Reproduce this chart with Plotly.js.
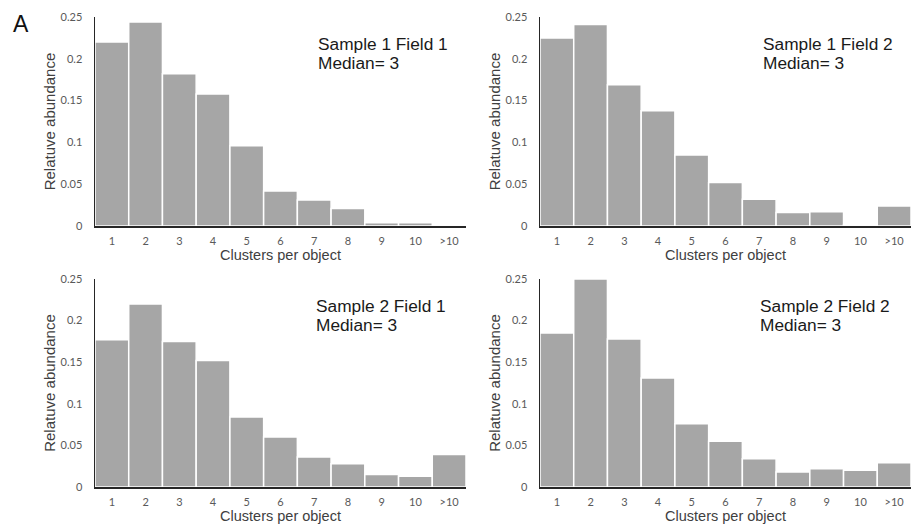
<!DOCTYPE html>
<html>
<head>
<meta charset="utf-8">
<script src="https://cdn.plot.ly/plotly-3.0.1.min.js"></script>
<style>html,body{margin:0;padding:0;background:#fff;}#chart{width:915px;height:531px;}</style>
</head>
<body>
<div id="chart"></div>
<script>
var categories = ['1','2','3','4','5','6','7','8','9','10','>10'];
var s1f1 = [0.220, 0.244, 0.182, 0.158, 0.096, 0.042, 0.031, 0.021, 0.004, 0.004, 0];
var s1f2 = [0.225, 0.241, 0.169, 0.138, 0.085, 0.052, 0.032, 0.016, 0.017, 0.0015, 0.024];
var s2f1 = [0.177, 0.220, 0.175, 0.152, 0.084, 0.060, 0.036, 0.028, 0.015, 0.013, 0.039];
var s2f2 = [0.185, 0.250, 0.178, 0.131, 0.076, 0.055, 0.034, 0.018, 0.022, 0.020, 0.029];
var panelTitles = ['Sample 1 Field 1', 'Sample 1 Field 2', 'Sample 2 Field 1', 'Sample 2 Field 2'];
var medians = [3, 3, 3, 3];
var yTickVals = [0, 0.05, 0.1, 0.15, 0.2, 0.25];
var yTickText = ['0', '0.05', '0.1', '0.15', '0.2', '0.25'];

var series = [s1f1, s1f2, s2f1, s2f2];
var W = 915, H = 531;
var xDomains = [[95/W, 466/W], [540/W, 911/W], [95/W, 466/W], [540/W, 911/W]];
var yDomains = [[1-226/H, 1-17/H], [1-226/H, 1-17/H], [1-487/H, 1-279/H], [1-487/H, 1-279/H]];
var annPos = [[316, 44], [761, 44], [314, 306], [758, 306]];
var lineGap = 18.5;

var traces = [];
var layout = {
  width: W, height: H,
  margin: {l: 0, r: 0, t: 0, b: 0},
  paper_bgcolor: '#fff', plot_bgcolor: '#fff',
  showlegend: false,
  bargap: 0,
  font: {family: 'Liberation Sans, Arial, sans-serif', color: '#333'},
  annotations: []
};
var tickFont = {family: 'Lato, Open Sans, sans-serif', size: 11, color: '#595959'};
var xTitleFont = {family: 'Liberation Sans, Arial, sans-serif', size: 14.5, color: '#404040'};
var yTitleFont = {family: 'Liberation Sans, Arial, sans-serif', size: 15, color: '#404040'};
var annFont = {family: 'Liberation Sans, Arial, sans-serif', size: 17.3, color: '#1a1a1a'};

for (var i = 0; i < 4; i++) {
  var sfx = i === 0 ? '' : String(i + 1);
  traces.push({
    type: 'bar', x: categories, y: series[i],
    xaxis: 'x' + sfx, yaxis: 'y' + sfx,
    marker: {color: '#a6a6a6', line: {color: '#ffffff', width: 1.5}},
    hoverinfo: 'x+y'
  });
  layout['xaxis' + sfx] = {
    domain: xDomains[i], anchor: 'y' + sfx,
    type: 'category',
    showline: true, linecolor: '#262626', linewidth: 1.5,
    showgrid: false, zeroline: false,
    ticks: 'outside', ticklen: 4, tickcolor: 'rgba(0,0,0,0)',
    tickfont: tickFont,
    title: {text: 'Clusters per object', font: xTitleFont, standoff: 0},
    automargin: false, fixedrange: true
  };
  layout['yaxis' + sfx] = {
    domain: yDomains[i], anchor: 'x' + sfx,
    range: [0, 0.25],
    showline: true, linecolor: '#262626', linewidth: 1.5,
    showgrid: false, zeroline: false,
    tickvals: yTickVals, ticktext: yTickText,
    ticks: 'outside', ticklen: 9, tickcolor: 'rgba(0,0,0,0)',
    tickfont: tickFont,
    title: {text: 'Relatuve abundance', font: yTitleFont, standoff: 1},
    automargin: false, fixedrange: true
  };
  layout.annotations.push({
    xref: 'paper', yref: 'paper',
    x: annPos[i][0] / W, y: 1 - annPos[i][1] / H,
    xanchor: 'left', yanchor: 'middle', align: 'left',
    showarrow: false, text: panelTitles[i], font: annFont
  });
  layout.annotations.push({
    xref: 'paper', yref: 'paper',
    x: annPos[i][0] / W, y: 1 - (annPos[i][1] + lineGap) / H,
    xanchor: 'left', yanchor: 'middle', align: 'left',
    showarrow: false, text: 'Median= ' + medians[i], font: annFont
  });
}
layout.annotations.push({
  xref: 'paper', yref: 'paper', x: 11 / W, y: 1 - 9 / H,
  xanchor: 'left', yanchor: 'top', showarrow: false,
  text: 'A', font: {family: 'Liberation Sans, Arial, sans-serif', size: 23, color: '#111'}
});

Plotly.newPlot('chart', traces, layout, {displayModeBar: false, staticPlot: true});
</script>
</body>
</html>
